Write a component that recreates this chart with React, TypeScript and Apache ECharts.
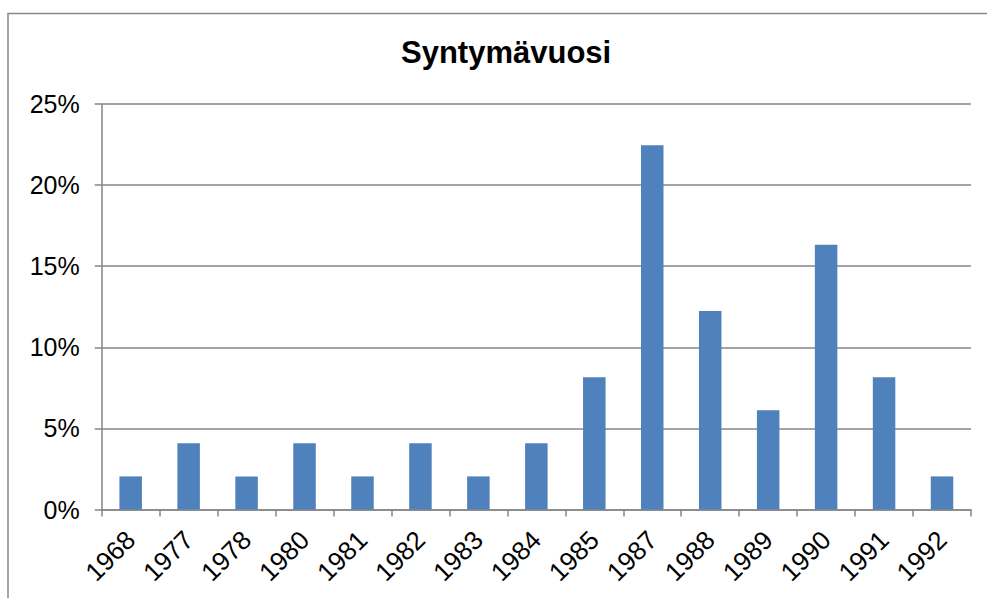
import React, { useEffect, useRef } from "react";
import * as echarts from "echarts";

const categories = ["1968", "1977", "1978", "1980", "1981", "1982", "1983", "1984", "1985", "1987", "1988", "1989", "1990", "1991", "1992"];
const values = [2.04, 4.08, 2.04, 4.08, 2.04, 4.08, 2.04, 4.08, 8.16, 22.45, 12.24, 6.12, 16.33, 8.16, 2.04];
const titleText = "Syntymävuosi";

export default function App() {
  const ref = useRef<HTMLDivElement>(null);
  useEffect(() => {
    if (!ref.current) return;
    const chart = echarts.init(ref.current, undefined, { renderer: "svg" });
    chart.setOption({
      animation: false,
      backgroundColor: "#ffffff",
      textStyle: { fontFamily: "Liberation Sans, Arial, sans-serif" },
      title: {
        text: titleText,
        left: 396,
        top: 32,
        textStyle: { fontSize: 31, fontWeight: "bold", color: "#000", fontFamily: "Liberation Sans, Arial, sans-serif" },
      },
      graphic: [
        {
          type: "rect",
          shape: { x: 8, y: 13.5, width: 1100, height: 700 },
          style: { fill: "none", stroke: "#888888", lineWidth: 1.5 },
          silent: true,
        },
      ],
      grid: { left: 101.7, right: 16, top: 104, bottom: 88.5, containLabel: false },
      xAxis: {
        type: "category",
        data: categories,
        boundaryGap: true,
        axisLine: { show: true, lineStyle: { color: "#868686", width: 1.5 } },
        axisTick: { show: true, length: 7, alignWithLabel: false, lineStyle: { color: "#868686", width: 1.5 } },
        axisLabel: { rotate: 45, fontSize: 26, color: "#000", margin: 26, interval: 0, fontFamily: "Liberation Sans, Arial, sans-serif" },
      },
      yAxis: {
        type: "value",
        min: 0,
        max: 25,
        interval: 5,
        axisLine: { show: true, lineStyle: { color: "#868686", width: 1.5 } },
        axisTick: { show: true, length: 7, lineStyle: { color: "#868686", width: 1.5 } },
        splitLine: { show: true, lineStyle: { color: "#868686", width: 1.5 } },
        axisLabel: { formatter: "{value}%", fontSize: 25, color: "#000", margin: 22, fontFamily: "Liberation Sans, Arial, sans-serif" },
      },
      series: [
        {
          type: "bar",
          data: values,
          barWidth: 22.5,
          itemStyle: { color: "#4F81BD" },
        },
      ],
    });
    return () => chart.dispose();
  }, []);
  return <div ref={ref} style={{ position: "absolute", left: 0, top: 0, width: 987, height: 598 }} />;
}
